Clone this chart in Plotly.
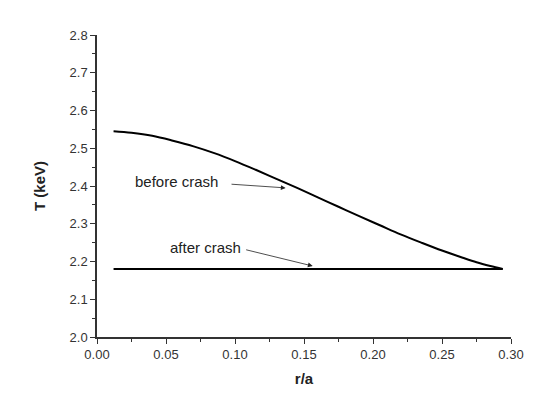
import plotly.graph_objects as go

# Temperature profile before the crash (r/a, T in keV)
r_before = [0.012, 0.025, 0.040, 0.055, 0.070, 0.085, 0.100, 0.115, 0.130,
            0.145, 0.160, 0.175, 0.190, 0.205, 0.220, 0.235, 0.250, 0.265,
            0.275, 0.285, 0.294]
t_before = [2.545, 2.541, 2.533, 2.520, 2.505, 2.487, 2.466, 2.443, 2.419,
            2.395, 2.370, 2.345, 2.320, 2.296, 2.272, 2.250, 2.229, 2.210,
            2.198, 2.188, 2.180]

# Flattened profile after the crash
r_after = [0.012, 0.294]
t_after = [2.180, 2.180]

x_ticks = [0.00, 0.05, 0.10, 0.15, 0.20, 0.25, 0.30]
x_tick_labels = ["0.00", "0.05", "0.10", "0.15", "0.20", "0.25", "0.30"]
y_ticks = [2.0, 2.1, 2.2, 2.3, 2.4, 2.5, 2.6, 2.7, 2.8]
y_tick_labels = ["2.0", "2.1", "2.2", "2.3", "2.4", "2.5", "2.6", "2.7", "2.8"]

FONT = "Liberation Sans, Arial, sans-serif"
AXIS_COLOR = "#333333"

fig = go.Figure()
fig.add_trace(go.Scatter(x=r_before, y=t_before, mode="lines",
                         line=dict(color="black", width=2, shape="spline", smoothing=1.0),
                         showlegend=False, hoverinfo="skip"))
fig.add_trace(go.Scatter(x=r_after, y=t_after, mode="lines",
                         line=dict(color="black", width=2),
                         showlegend=False, hoverinfo="skip"))

# Labels with arrows pointing at each profile
fig.add_annotation(x=0.1367, y=2.395, ax=0.0964, ay=2.405,
                   xref="x", yref="y", axref="x", ayref="y",
                   showarrow=True, arrowhead=2, arrowsize=1.2, arrowwidth=0.8,
                   arrowcolor="#222222", text="")
fig.add_annotation(x=0.0576, y=2.411, xref="x", yref="y", text="before crash",
                   showarrow=False, font=dict(family=FONT, size=15, color="#222222"))
fig.add_annotation(x=0.1563, y=2.188, ax=0.107, ay=2.232,
                   xref="x", yref="y", axref="x", ayref="y",
                   showarrow=True, arrowhead=2, arrowsize=1.2, arrowwidth=0.8,
                   arrowcolor="#222222", text="")
fig.add_annotation(x=0.0783, y=2.2376, xref="x", yref="y", text="after crash",
                   showarrow=False, font=dict(family=FONT, size=15, color="#222222"))

fig.update_xaxes(
    range=[0, 0.30], tickmode="array", tickvals=x_ticks, ticktext=x_tick_labels,
    ticks="outside", ticklen=5, tickwidth=1, tickcolor=AXIS_COLOR,
    minor=dict(ticks="outside", ticklen=3, tickwidth=1, tickcolor=AXIS_COLOR, dtick=0.025, tick0=0),
    showline=True, linecolor=AXIS_COLOR, linewidth=1.5, showgrid=False, zeroline=False,
    tickfont=dict(family=FONT, size=13, color="#333333"),
    title=dict(text="<b>r/a</b>", font=dict(family=FONT, size=15, color="#222222"), standoff=12),
)
fig.update_yaxes(
    range=[2.0, 2.8], tickmode="array", tickvals=y_ticks, ticktext=y_tick_labels,
    ticks="outside", ticklen=5, tickwidth=1, tickcolor=AXIS_COLOR,
    minor=dict(ticks="outside", ticklen=3, tickwidth=1, tickcolor=AXIS_COLOR, dtick=0.05, tick0=2.0),
    showline=True, linecolor=AXIS_COLOR, linewidth=1.5, showgrid=False, zeroline=False,
    tickfont=dict(family=FONT, size=13, color="#333333"),
    title=dict(text="<b>T (keV)</b>", font=dict(family=FONT, size=15, color="#222222"), standoff=20),
)
fig.update_layout(
    width=549, height=414,
    margin=dict(l=97, r=38, t=35, b=77, autoexpand=False),
    paper_bgcolor="white", plot_bgcolor="white",
)
fig.write_html("out.html")
